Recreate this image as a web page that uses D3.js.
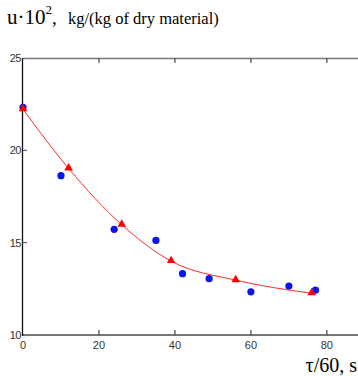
<!DOCTYPE html>
<html>
<head>
<meta charset="utf-8">
<script src="https://cdn.jsdelivr.net/npm/d3@7"></script>
<style>
body { margin: 0; background: #fff; }
svg { display: block; }
</style>
</head>
<body>
<svg width="358" height="376"></svg>
<script>
// experiment (blue dots)
const expT = [0, 10, 24, 35, 42, 49, 60, 70, 77];
const expU = [22.33, 18.63, 15.72, 15.12, 13.32, 13.05, 12.34, 12.65, 12.43];
// model (red triangles + curve)
const modT = [0, 12, 26, 39, 56, 76];
const modU = [22.22, 19.02, 15.97, 14.0, 12.97, 12.26];
const xTicks = [0, 20, 40, 60, 80];
const yTicks = [10, 15, 20, 25];

const svg = d3.select("svg");
const x = d3.scaleLinear().domain([0, 88.2]).range([23, 358]);
const y = d3.scaleLinear().domain([10, 25]).range([335, 58]);

// top border
svg.append("line")
    .attr("x1", 23).attr("x2", 358).attr("y1", 58.5).attr("y2", 58.5)
    .attr("stroke", "#777").attr("stroke-width", 1.5);

// bottom axis
svg.append("line")
    .attr("x1", 23).attr("x2", 358).attr("y1", 335).attr("y2", 335)
    .attr("stroke", "#777").attr("stroke-width", 2);

// left axis
svg.append("line")
    .attr("x1", 22.5).attr("x2", 22.5).attr("y1", 58).attr("y2", 336)
    .attr("stroke", "#111").attr("stroke-width", 1.3);

const g = svg.append("g");

// x ticks (top going down, bottom going up)
xTicks.filter(d => d > 0).forEach(d => {
  g.append("line").attr("x1", x(d)).attr("x2", x(d)).attr("y1", 58).attr("y2", 63)
    .attr("stroke", "#444").attr("stroke-width", 1.2);
  g.append("line").attr("x1", x(d)).attr("x2", x(d)).attr("y1", 335).attr("y2", 330)
    .attr("stroke", "#444").attr("stroke-width", 1.2);
});
xTicks.forEach(d => {
  g.append("text").attr("x", x(d)).attr("y", 349)
    .attr("text-anchor", "middle")
    .attr("font-family", "Liberation Sans, Arial, sans-serif")
    .attr("font-size", 11).attr("fill", "#333")
    .text(d);
});

// y ticks
yTicks.forEach(d => {
  if (d > 10 && d < 25) {
    g.append("line").attr("x1", 22.5).attr("x2", 27).attr("y1", y(d)).attr("y2", y(d))
      .attr("stroke", "#444").attr("stroke-width", 1);
  }
  g.append("text").attr("x", 21).attr("y", y(d) + 4)
    .attr("text-anchor", "end")
    .attr("font-family", "Liberation Sans, Arial, sans-serif")
    .attr("font-size", 11).attr("fill", "#333")
    .attr("letter-spacing", -0.5)
    .text(d);
});

// model curve
const modPts = modT.map((t, i) => [t, modU[i]]);
const line = d3.line().x(d => x(d[0])).y(d => y(d[1])).curve(d3.curveMonotoneX);
svg.append("path").datum(modPts).attr("d", line)
    .attr("fill", "none").attr("stroke", "#ff2a2a").attr("stroke-width", 1);

// blue dots
svg.selectAll(".dot").data(expT.map((t, i) => [t, expU[i]])).enter()
  .append("circle")
    .attr("cx", d => x(d[0])).attr("cy", d => y(d[1])).attr("r", 3.6)
    .attr("fill", "#0a14f0");

// red triangles
const tri = d3.symbol().type(d3.symbolTriangle).size(32);
svg.selectAll(".tri").data(modPts).enter()
  .append("path")
    .attr("d", tri)
    .attr("transform", d => `translate(${x(d[0])},${y(d[1]) - 0.5})`)
    .attr("fill", "#ff0000");

// y title
const title = svg.append("text").attr("x", 7).attr("y", 24)
    .attr("font-family", "Liberation Serif, Times New Roman, serif")
    .attr("fill", "#000");
title.append("tspan").attr("font-size", 21).text("u·10");
title.append("tspan").attr("font-size", 13).attr("dy", -10).text("2");
title.append("tspan").attr("font-size", 19).attr("dy", 10).text(",");
title.append("tspan").attr("x", 68).attr("font-size", 16.5)
    .text("kg/(kg of dry material)");

// x title
svg.append("text").attr("x", 357).attr("y", 372)
    .attr("text-anchor", "end")
    .attr("font-family", "Liberation Serif, Times New Roman, serif")
    .attr("font-size", 20).attr("fill", "#000")
    .text("τ/60, s");
</script>
</body>
</html>
